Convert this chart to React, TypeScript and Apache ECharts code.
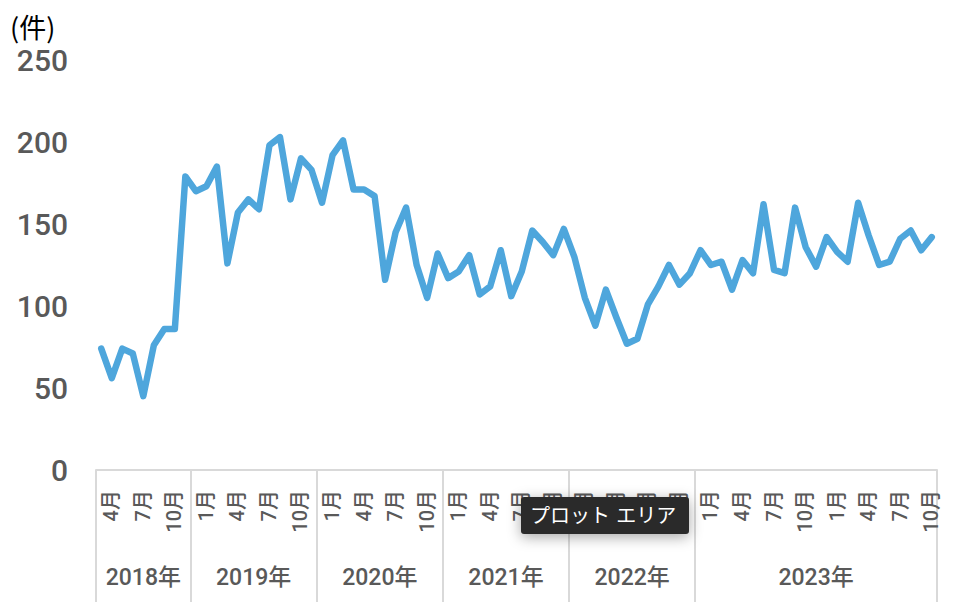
import React, { useEffect, useRef } from "react";
import * as echarts from "echarts";

// ---- data ----
const yearLabels = ["2018年", "2019年", "2020年", "2021年", "2022年", "2023年"];
const monthsPerGroup = [9, 12, 12, 12, 12, 23];
const firstMonth = 4;
const shownMonths = [1, 4, 7, 10];
const counts = [
  74, 56, 74, 71, 45, 76, 86, 86, 179,
  170, 173, 185, 126, 157, 165, 159, 198, 203, 165, 190, 183,
  163, 192, 201, 171, 171, 167, 116, 145, 160, 125, 105, 132,
  117, 121, 131, 107, 112, 134, 106, 121, 146, 139, 131, 147,
  130, 105, 88, 110, 93, 77, 80, 101, 112, 125, 113, 120,
  134, 125, 127, 110, 128, 120, 162, 122, 120, 160, 136, 124,
  142, 133, 127, 163, 143, 125, 127, 141, 146, 134, 142,
];
const yMin = 0;
const yMax = 250;
const yStep = 50;
const unitLabel = "(件)";
const hoverTip = "プロット エリア";

// ---- derived tables ----
const monthNums: number[] = [];
const categories: string[] = [];
{
  let m = firstMonth;
  monthsPerGroup.forEach((n, g) => {
    for (let k = 0; k < n; k++) {
      monthNums.push(m);
      categories.push(`${g}-${k}`);
      m = (m % 12) + 1;
    }
  });
}
const total = categories.length;
const boundaries: number[] = [0];
const centers: number[] = [];
{
  let acc = 0;
  monthsPerGroup.forEach((n) => {
    centers.push(acc + n / 2);
    acc += n;
    boundaries.push(acc);
  });
}

export default function App() {
  const ref = useRef<HTMLDivElement>(null);
  useEffect(() => {
    if (!ref.current) return;
    const chart = echarts.init(ref.current, undefined, { renderer: "svg" });
    const grey = "#595959";
    chart.setOption({
      animation: false,
      backgroundColor: "#ffffff",
      grid: { left: 96, right: 17, top: 60, bottom: 144, containLabel: false },
      xAxis: [
        {
          type: "category",
          data: categories,
          boundaryGap: true,
          position: "bottom",
          axisLine: { show: true, lineStyle: { color: "#d9d9d9", width: 2 } },
          axisTick: { show: false },
          axisLabel: {
            interval: (i: number) => shownMonths.includes(monthNums[i]),
            formatter: (_v: string, i: number) => `${monthNums[i]}月`,
            rotate: 90,
            verticalAlign: "top",
            margin: 20,
            fontSize: 20,
            fontFamily: "Roboto, 'Noto Sans CJK JP'",
            fontWeight: 500,
            color: grey,
          },
          splitLine: { show: false },
        },
        {
          type: "value",
          min: 0,
          max: total,
          position: "bottom",
          offset: 0,
          axisLine: { show: false },
          splitLine: { show: false },
          axisTick: {
            show: true,
            customValues: boundaries,
            length: 132,
            lineStyle: { color: "#d9d9d9", width: 2 },
          },
          axisLabel: {
            customValues: centers,
            formatter: (v: number) => {
              const idx = centers.findIndex((c) => Math.abs(c - v) < 1e-6);
              return idx >= 0 ? yearLabels[idx] : "";
            },
            margin: 96,
            fontSize: 23,
            fontFamily: "Roboto, 'Noto Sans CJK JP'",
            fontWeight: 500,
            color: grey,
          },
        },
      ],
      yAxis: {
        type: "value",
        min: yMin,
        max: yMax,
        interval: yStep,
        axisLine: { show: false },
        axisTick: { show: false },
        splitLine: { show: false },
        axisLabel: {
          margin: 28,
          fontSize: 30,
          fontFamily: "Roboto",
          fontWeight: 500,
          color: grey,
        },
      },
      series: [
        {
          type: "line",
          xAxisIndex: 0,
          data: counts,
          symbol: "none",
          lineStyle: { color: "#4ea6dc", width: 6.5, join: "round", cap: "round" },
        },
      ],
      graphic: [
        {
          type: "text",
          left: 10,
          top: 13,
          z: 100,
          style: {
            text: unitLabel,
            font: "27px 'Noto Sans CJK JP'",
            fill: "#000000",
          },
        },
        {
          type: "group",
          left: 521,
          top: 497,
          z: 100,
          children: [
            {
              type: "rect",
              z: 100,
              shape: { x: 0, y: 0, width: 168, height: 37, r: 3 },
              style: {
                fill: "#2b2b2b",
                shadowBlur: 14,
                shadowColor: "rgba(0,0,0,0.35)",
                shadowOffsetY: 3,
              },
            },
            {
              type: "text",
              z: 101,
              x: 9,
              y: 18.5,
              style: {
                text: hoverTip,
                font: "20px 'DejaVu Sans', 'Noto Sans CJK JP'",
                fill: "#ffffff",
                verticalAlign: "middle",
              },
            },
          ],
        },
      ],
    });
    return () => chart.dispose();
  }, []);
  return (
    <div
      ref={ref}
      style={{ position: "fixed", left: 0, top: 0, width: 954, height: 614 }}
    />
  );
}
